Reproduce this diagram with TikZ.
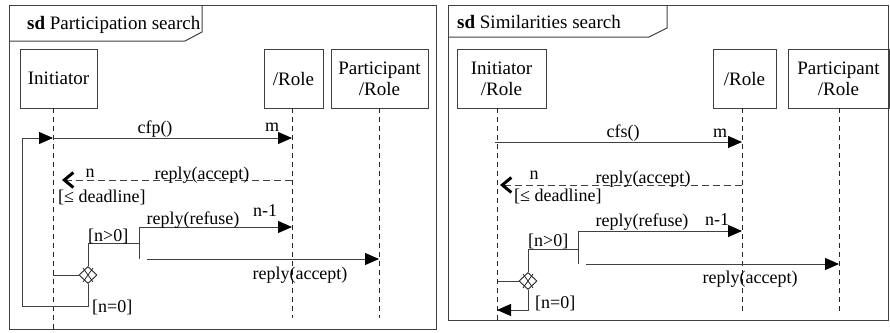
\documentclass[tikz,border=0pt]{standalone}
\usepackage{fontspec}
\setmainfont{Liberation Serif}
\usetikzlibrary{arrows.meta,shapes.geometric}
\begin{document}
\begin{tikzpicture}[x=1pt,y=-1pt,
 frame/.style={draw=black!75,line width=1pt},
 ln/.style={draw=black!75,line width=1pt},
 lbox/.style={draw=black!75,line width=1pt,minimum height=59pt,inner sep=0pt,align=center,font=\fontsize{19}{21}\selectfont},
 lifeline/.style={draw=black!85,line width=0.9pt,dash pattern=on 5pt off 4pt},
 msg/.style={ln,-{Triangle[length=14pt,width=12pt,black]}},
 rmsg/.style={draw=black!75,line width=1pt,dash pattern=on 7pt off 4pt,-{Straight Barb[length=9pt,width=15pt,line width=3pt,black]}},
 lbl/.style={font=\fontsize{18}{20}\selectfont,inner sep=0pt,anchor=base},
 lblw/.style={lbl,anchor=base west},
 ttl/.style={font=\fontsize{19}{21}\selectfont,inner sep=0pt,anchor=base west},
 gate/.style={diamond,draw=black!85,line width=0.9pt,minimum width=18pt,minimum height=17pt,inner sep=0pt},
 cross/.style={draw=black!85,line width=0.8pt},
]
\useasboundingbox (0,0) rectangle (890,332);

% ---------------- left frame ----------------
\draw[frame] (9,5) rectangle (436,329);
\draw[frame] (9,41) -- (185,41) -- (202,32) -- (202,5);
\node[ttl] (t1) at (27,29) {\textbf{sd} Participation search};

\node[lbox,minimum width=77pt] (a1) at (58.5,78.5) {Initiator};
\node[lbox,minimum width=59pt] (a2) at (293.5,78.5) {/Role};
\node[lbox,minimum width=97pt] (a3) at (379.5,78.5) {Participant\\/Role};

\coordinate (l1t) at (53,108);  \coordinate (l1b) at (53,329);
\coordinate (l2t) at (292,108); \coordinate (l2b) at (292,318);
\coordinate (l3t) at (379,108); \coordinate (l3b) at (379,318);
\draw[lifeline] (l1t) -- (l1b);
\draw[lifeline] (l2t) -- (l2b);
\draw[lifeline] (l3t) -- (l3b);

% cfp
\coordinate (c1s) at (53,138); \coordinate (c1e) at (292,138);
\draw[msg] (c1s) -- (c1e);
\node[lbl] (cfp) at (155,133) {cfp()};
\node[lbl] (m1) at (272,131) {m};

% dashed reply
\coordinate (r1s) at (292,180); \coordinate (r1e) at (62,180);
\draw[rmsg] (r1s) -- (r1e);
\node[lbl] (n1) at (90,177.5) {n};
\node[lbl] (ra1) at (202,179) {reply(accept)};
\node[lblw] (dl1) at (58,202) {[\char"2264{} deadline]};

% gate
\node[gate] (g1) at (88,275) {};
\draw[cross] (g1.center) +(-5,-7) -- +(5,7) +(5,-7) -- +(-5,7);
\coordinate (gl1) at (53,275);
\draw[ln] (gl1) -- (g1.west);
\coordinate (b1t) at (139,227); \coordinate (b1b) at (139,259);
\draw[ln] (g1.north) |- (139,243);
\draw[ln] (b1t) -- (b1b);
\node[lblw] (ng1) at (88,241) {[n>0]};

% refuse
\coordinate (f1e) at (292,227);
\draw[msg] (b1t) -- (f1e);
\node[lbl] (rf1) at (193,224) {reply(refuse)};
\node[lbl] (nm1) at (265,216) {n-1};

% accept to participant
\coordinate (p1s) at (147,259); \coordinate (p1e) at (379,259);
\draw[msg] (p1s) -- (p1e);
\node[lbl] (ra1b) at (300,279) {reply(accept)};

% loop back
\draw[msg] (g1.south) -- (88,306) -- (22,306) -- (22,138) -- (c1s);
\node[lblw] (nz1) at (92,312) {[n=0]};

% ---------------- right frame ----------------
\draw[frame] (448,5) rectangle (888,320);
\draw[frame] (448,37) -- (649,37) -- (667,28) -- (667,5);
\node[ttl] (t2) at (457,28) {\textbf{sd} Similarities search};

\node[lbox,minimum width=89pt] (b1) at (501.5,78.5) {Initiator\\/Role};
\node[lbox,minimum width=63pt] (b2) at (744.5,78.5) {/Role};
\node[lbox,minimum width=101pt] (b3) at (838.5,78.5) {Participant\\/Role};

\coordinate (k1t) at (497,108); \coordinate (k1b) at (497,320);
\coordinate (k2t) at (742,108); \coordinate (k2b) at (742,313);
\coordinate (k3t) at (839,108); \coordinate (k3b) at (839,313);
\draw[lifeline] (k1t) -- (k1b);
\draw[lifeline] (k2t) -- (k2b);
\draw[lifeline] (k3t) -- (k3b);

% cfs
\coordinate (c2s) at (495,142); \coordinate (c2e) at (742,142);
\draw[msg] (c2s) -- (c2e);
\node[lbl] (cfs) at (623,137) {cfs()};
\node[lbl] (m2) at (720,137) {m};

% dashed reply
\coordinate (r2s) at (742,185); \coordinate (r2e) at (500,185);
\draw[rmsg] (r2s) -- (r2e);
\node[lbl] (n2) at (534,179) {n};
\node[lbl] (ra2) at (643,183) {reply(accept)};
\node[lblw] (dl2) at (514,201) {[\char"2264{} deadline]};

% gate
\node[gate] (g2) at (528,281) {};
\draw[cross] (g2.center) +(-5,-7) -- +(5,7) +(5,-7) -- +(-5,7);
\coordinate (gl2) at (498,281);
\draw[ln] (gl2) -- (g2.west);
\coordinate (b2t) at (578,231); \coordinate (b2b) at (578,264);
\draw[ln] (g2.north) |- (578,249);
\draw[ln] (b2t) -- (b2b);
\node[lblw] (ng2) at (528,246) {[n>0]};

% refuse
\coordinate (f2e) at (742,231);
\draw[msg] (b2t) -- (f2e);
\node[lbl] (rf2) at (642,226) {reply(refuse)};
\node[lbl] (nm2) at (717,225) {n-1};

% accept to participant
\coordinate (p2s) at (586,264); \coordinate (p2e) at (839,264);
\draw[msg] (p2s) -- (p2e);
\node[lbl] (ra2b) at (750,283) {reply(accept)};

% back to initiator
\coordinate (q2) at (497,310);
\draw[msg] (g2.south) -- (528,310) -- (q2);
\node[lblw] (nz2) at (535,308) {[n=0]};
\end{tikzpicture}
\end{document}
